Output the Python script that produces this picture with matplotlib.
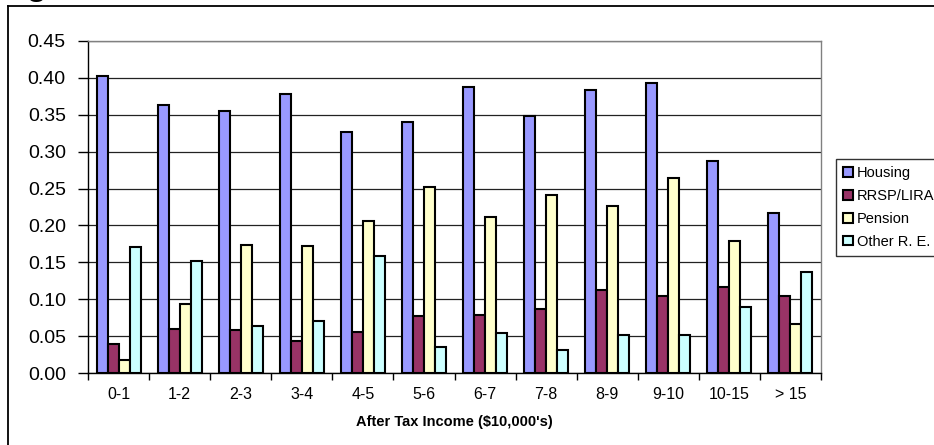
import matplotlib
matplotlib.use("Agg")
import matplotlib.pyplot as plt
import numpy as np
from matplotlib.lines import Line2D

plt.rcParams['font.family'] = ['Liberation Sans', 'DejaVu Sans']

categories = ["0-1", "1-2", "2-3", "3-4", "4-5", "5-6", "6-7", "7-8", "8-9", "9-10", "10-15", "> 15"]
housing = [0.403, 0.363, 0.355, 0.378, 0.327, 0.340, 0.387, 0.348, 0.384, 0.393, 0.288, 0.217]
rrsp = [0.039, 0.059, 0.058, 0.043, 0.056, 0.077, 0.079, 0.087, 0.112, 0.105, 0.116, 0.104]
pension = [0.017, 0.094, 0.174, 0.172, 0.206, 0.252, 0.211, 0.241, 0.226, 0.264, 0.179, 0.067]
other = [0.171, 0.152, 0.064, 0.071, 0.158, 0.035, 0.054, 0.031, 0.052, 0.051, 0.090, 0.137]
series_names = ["Housing", "RRSP/LIRA", "Pension", "Other R. E."]
colors = ["#9999FF", "#993366", "#FFFFCC", "#CCFFFF"]
yticks = [0.00, 0.05, 0.10, 0.15, 0.20, 0.25, 0.30, 0.35, 0.40, 0.45]

W, H = 934, 445
fig = plt.figure(figsize=(W / 100, H / 100), dpi=100)
ax = fig.add_axes([88 / W, 1 - 373 / H, (821 - 88) / W, (373 - 41) / H])

x = np.arange(len(categories))
bw = 0.18
for i, (vals, name, c) in enumerate(zip([housing, rrsp, pension, other], series_names, colors)):
    ax.bar(x + (i - 1.5) * bw, vals, width=bw, color=c, edgecolor="black",
           linewidth=1.5, label=name, zorder=3)

ax.set_xlim(-0.5, len(categories) - 0.5)
ax.set_ylim(0, 0.45)
ax.set_yticks(yticks)
ax.set_yticklabels([f"{v:.2f}" for v in yticks], fontsize=14)
ax.yaxis.grid(True, color="#222222", linewidth=0.9, zorder=0)
ax.tick_params(axis="y", direction="out", length=7, width=1, pad=9)

ax.set_xticks(np.arange(len(categories) + 1) - 0.5)
ax.set_xticklabels([])
ax.tick_params(axis="x", which="major", direction="out", length=5, width=1)
ax.set_xticks(x, minor=True)
ax.set_xticklabels(categories, minor=True, fontsize=11.5)
ax.tick_params(axis="x", which="minor", length=0, pad=10)

for s in ["left", "bottom"]:
    ax.spines[s].set_color("black")
    ax.spines[s].set_linewidth(1)
for s in ["top", "right"]:
    ax.spines[s].set_color("#808080")
    ax.spines[s].set_linewidth(1)

fig.text(454.5 / W, 1 - 422 / H, "After Tax Income ($10,000's)", ha="center", va="center",
         fontsize=10.5, fontweight="bold")

leg = fig.legend(loc="upper left", bbox_to_anchor=(836 / W, 1 - 159 / H),
                 bbox_transform=fig.transFigure, fontsize=10.5, frameon=True,
                 fancybox=False, handlelength=0.65, handleheight=0.65,
                 handletextpad=0.3, labelspacing=0.6, borderpad=0.5, borderaxespad=0)
leg.get_frame().set_edgecolor("black")
leg.get_frame().set_linewidth(1)

# outer chart frame (partly cut)
fig.add_artist(Line2D([8 / W, 8 / W], [0, 1 - 6 / H], color="black", linewidth=1.3,
                      transform=fig.transFigure))
fig.add_artist(Line2D([8 / W, 1], [1 - 6 / H, 1 - 6 / H], color="black", linewidth=1.3,
                      transform=fig.transFigure))
# clipped heading glyph at very top (only its descender shows, as in the reference)
fig.text(25 / W, 1 + 6 / H, "g", fontsize=28, va="baseline", ha="left")

fig.savefig("out.png", dpi=100)
